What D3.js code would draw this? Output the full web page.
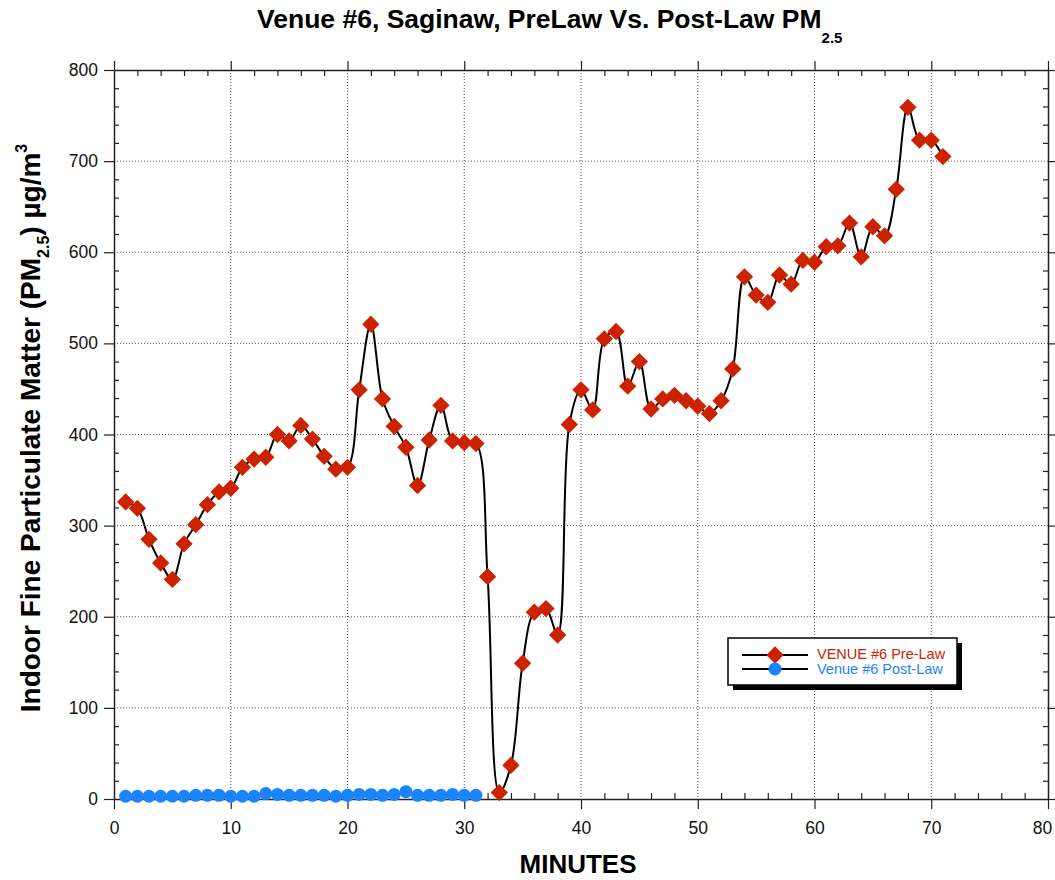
<!DOCTYPE html>
<html>
<head>
<meta charset="utf-8">
<script src="https://cdn.jsdelivr.net/npm/d3@7"></script>
<style>
  body { margin: 0; background: #fff; }
  text { font-family: "Liberation Sans", Arial, Helvetica, sans-serif; }
</style>
</head>
<body>
<div id="chart"></div>
<script>
// data
var preMinutes = d3.range(1, 72);
var preLaw = [326, 319, 285, 259, 241, 280, 301, 323, 337, 341,
	364, 373, 375, 400, 393, 410, 395, 376, 362, 364,
	449, 521, 439, 409, 386, 344, 394, 432, 393, 391,
	390, 244, 7, 37, 149, 205, 209, 180, 411, 449,
	427, 505, 513, 453, 480, 428, 439, 443, 437, 431,
	423, 437, 472, 573, 553, 545, 575, 565, 591, 589,
	606, 607, 632, 595, 628, 618, 669, 759, 723, 723, 705];
var postMinutes = d3.range(1, 32);
var postLaw = [3, 3, 3, 3, 3, 3, 4, 4, 4, 3,
	3, 3, 6, 5, 4, 4, 4, 4, 3, 4,
	5, 5, 4, 5, 8, 4, 4, 4, 5, 4, 4];
var xTicks = [0, 10, 20, 30, 40, 50, 60, 70, 80];
var yTicks = [0, 100, 200, 300, 400, 500, 600, 700, 800];
var seriesNames = ["VENUE #6 Pre-Law", "Venue #6 Post-Law"];

var svgWidth = 1055;
var svgHeight = 880;
var margin = { top: 70, right: 7, bottom: 81, left: 114 };
var width = svgWidth - margin.left - margin.right;
var height = svgHeight - margin.top - margin.bottom;

var redColor = "#cc2200";
var blueColor = "#1a84ff";

var svg = d3.select("#chart")
	.append("svg")
	.attr("width", svgWidth)
	.attr("height", svgHeight);

var chartGroup = svg.append("g")
	.attr("transform", `translate(${margin.left}, ${margin.top})`);

var xScale = d3.scaleLinear().domain([0, 80]).range([0, width]);
var yScale = d3.scaleLinear().domain([0, 800]).range([height, 0]);

// gridlines
chartGroup.append("g")
	.selectAll("line")
	.data(xTicks.slice(1, -1))
	.enter()
	.append("line")
	.attr("x1", d => xScale(d))
	.attr("x2", d => xScale(d))
	.attr("y1", 0)
	.attr("y2", height)
	.attr("stroke", "#555")
	.attr("stroke-width", 1)
	.attr("stroke-dasharray", "1,2");

chartGroup.append("g")
	.selectAll("line")
	.data(yTicks.slice(1, -1))
	.enter()
	.append("line")
	.attr("x1", 0)
	.attr("x2", width)
	.attr("y1", d => yScale(d))
	.attr("y2", d => yScale(d))
	.attr("stroke", "#555")
	.attr("stroke-width", 1)
	.attr("stroke-dasharray", "1,2");

// axes: major ticks outward, minor ticks inward
var xMinor = d3.range(0, 81, 2).filter(d => d % 10 !== 0);
var yMinor = d3.range(0, 801, 20).filter(d => d % 100 !== 0);

function styleAxis(g) {
	g.select(".domain").attr("stroke", "#222").attr("stroke-width", 1.5);
	g.selectAll(".tick line").attr("stroke", "#222").attr("stroke-width", 1.2);
	g.selectAll(".tick text")
		.attr("font-size", 17.5)
		.attr("fill", "#111");
}

var xAxis = chartGroup.append("g")
	.attr("transform", `translate(0, ${height})`)
	.call(d3.axisBottom(xScale).tickValues(xTicks).tickSizeInner(10).tickSizeOuter(0).tickPadding(13));
styleAxis(xAxis);
// last label sits at the page edge, nudge it in
xAxis.selectAll(".tick text").filter(d => d === 80).attr("dx", -6);

chartGroup.append("g")
	.attr("transform", `translate(0, ${height})`)
	.call(d3.axisBottom(xScale).tickValues(xMinor).tickSize(-6).tickFormat(""))
	.call(g => g.select(".domain").remove())
	.call(styleAxis);

var xTop = chartGroup.append("g")
	.call(d3.axisTop(xScale).tickValues(xTicks).tickSizeInner(9).tickSizeOuter(0).tickFormat(""));
styleAxis(xTop);

chartGroup.append("g")
	.call(d3.axisTop(xScale).tickValues(xMinor).tickSize(-6).tickFormat(""))
	.call(g => g.select(".domain").remove())
	.call(styleAxis);

var yAxis = chartGroup.append("g")
	.call(d3.axisLeft(yScale).tickValues(yTicks).tickSizeInner(10).tickSizeOuter(0).tickPadding(6));
styleAxis(yAxis);

chartGroup.append("g")
	.call(d3.axisLeft(yScale).tickValues(yMinor).tickSize(-5).tickFormat(""))
	.call(g => g.select(".domain").remove())
	.call(styleAxis);

var yRight = chartGroup.append("g")
	.attr("transform", `translate(${width}, 0)`)
	.call(d3.axisRight(yScale).tickValues(yTicks).tickSizeInner(9).tickSizeOuter(0).tickFormat(""));
styleAxis(yRight);

chartGroup.append("g")
	.attr("transform", `translate(${width}, 0)`)
	.call(d3.axisRight(yScale).tickValues(yMinor).tickSize(-5).tickFormat(""))
	.call(g => g.select(".domain").remove())
	.call(styleAxis);

// lines
var lineGen = d3.line()
	.x(d => xScale(d[0]))
	.y(d => yScale(d[1]))
	.curve(d3.curveCatmullRom.alpha(0.5));

var preData = preMinutes.map((m, i) => [m, preLaw[i]]);
var postData = postMinutes.map((m, i) => [m, postLaw[i]]);

chartGroup.append("path")
	.datum(preData)
	.attr("d", lineGen)
	.attr("fill", "none")
	.attr("stroke", "#000")
	.attr("stroke-width", 2);

chartGroup.append("path")
	.datum(postData)
	.attr("d", lineGen)
	.attr("fill", "none")
	.attr("stroke", "#000")
	.attr("stroke-width", 2);

// markers
var diamond = d3.symbol().type(d3.symbolSquare).size(150);

chartGroup.selectAll(".pre")
	.data(preData)
	.enter()
	.append("path")
	.attr("class", "pre")
	.attr("d", diamond)
	.attr("transform", d => `translate(${xScale(d[0])}, ${yScale(d[1])}) rotate(45)`)
	.attr("fill", redColor);

chartGroup.selectAll(".post")
	.data(postData)
	.enter()
	.append("circle")
	.attr("class", "post")
	.attr("cx", d => xScale(d[0]))
	.attr("cy", d => yScale(d[1]))
	.attr("r", 6.5)
	.attr("fill", blueColor);

// legend
var legend = svg.append("g").attr("transform", "translate(728, 638)");
legend.append("rect")
	.attr("x", 5).attr("y", 5)
	.attr("width", 229).attr("height", 47)
	.attr("fill", "#000");
legend.append("rect")
	.attr("x", 0).attr("y", 0)
	.attr("width", 229).attr("height", 47)
	.attr("fill", "#fff")
	.attr("stroke", "#000")
	.attr("stroke-width", 1.5);

legend.append("line")
	.attr("x1", 14).attr("x2", 80).attr("y1", 17).attr("y2", 17)
	.attr("stroke", "#000").attr("stroke-width", 2);
legend.append("line")
	.attr("x1", 14).attr("x2", 80).attr("y1", 31).attr("y2", 31)
	.attr("stroke", "#000").attr("stroke-width", 2);
legend.append("path")
	.attr("d", diamond)
	.attr("transform", "translate(47, 17) rotate(45)")
	.attr("fill", redColor);
legend.append("circle")
	.attr("cx", 47).attr("cy", 31).attr("r", 6.5)
	.attr("fill", blueColor);
legend.append("text")
	.attr("x", 89).attr("y", 21)
	.attr("font-size", 14.5)
	.attr("fill", redColor)
	.text(seriesNames[0]);
legend.append("text")
	.attr("x", 89).attr("y", 36)
	.attr("font-size", 14.5)
	.attr("fill", blueColor)
	.text(seriesNames[1]);

// title
var title = svg.append("text")
	.attr("x", 257)
	.attr("y", 28)
	.attr("font-size", 26.5)
	.attr("font-weight", "bold");
title.append("tspan").text("Venue #6, Saginaw, PreLaw Vs. Post-Law PM");
title.append("tspan").attr("dy", 15).attr("font-size", 15).text("2.5");

// y axis label
var yLabel = svg.append("text")
	.attr("transform", "translate(40, 428) rotate(-90)")
	.attr("text-anchor", "middle")
	.attr("font-size", 28)
	.attr("font-weight", "bold");
yLabel.append("tspan").text("Indoor Fine Particulate Matter (PM");
yLabel.append("tspan").attr("dy", 9).attr("font-size", 16).text("2.5");
yLabel.append("tspan").attr("dy", -9).text(") µg/m");
yLabel.append("tspan").attr("dy", -13).attr("font-size", 16).text("3");

// x axis label
svg.append("text")
	.attr("x", 578)
	.attr("y", 873)
	.attr("text-anchor", "middle")
	.attr("font-size", 26)
	.attr("font-weight", "bold")
	.text("MINUTES");
</script>
</body>
</html>
